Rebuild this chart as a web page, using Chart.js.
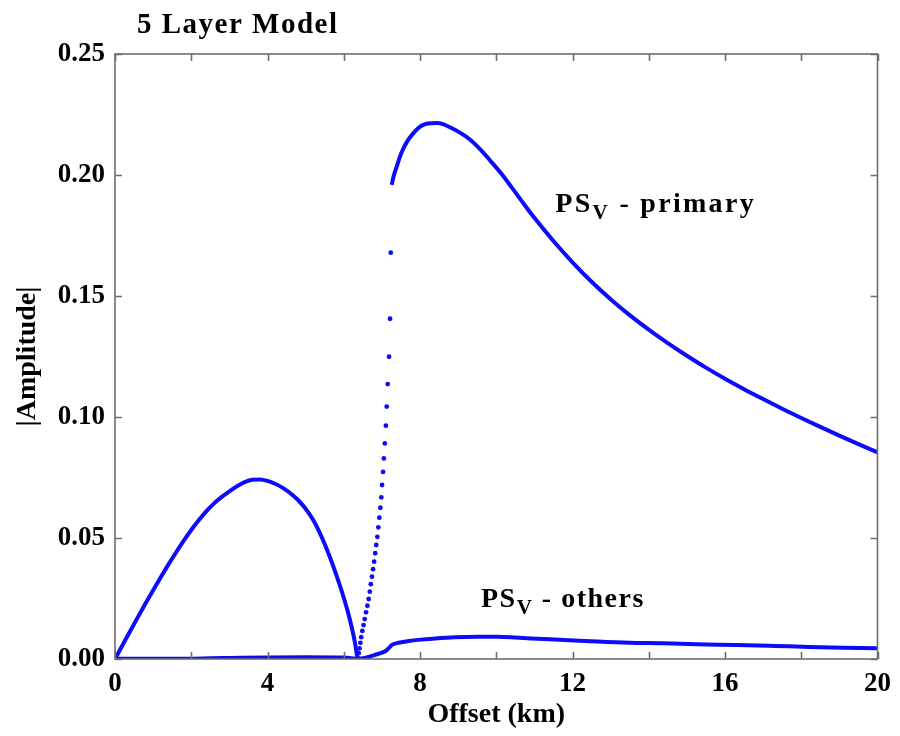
<!DOCTYPE html>
<html>
<head>
<meta charset="utf-8">
<script src="https://cdn.jsdelivr.net/npm/chart.js@4"></script>
<style>
  html, body { margin: 0; padding: 0; background: #fff; }
</style>
</head>
<body>
<canvas id="chart" width="900" height="736"></canvas>
<script>
// PSv primary: arch before the cusp (km, |amplitude|)
const archX = [0, 0.2, 0.4, 0.6, 0.8, 1.0, 1.2, 1.4, 1.6, 1.8, 2.0, 2.2, 2.4, 2.6, 2.8, 3.0, 3.2, 3.4, 3.6,
  3.8, 4.0, 4.2, 4.4, 4.6, 4.8, 5.0, 5.2, 5.35, 5.5, 5.65, 5.8, 5.95, 6.1, 6.21, 6.3, 6.36];
const archY = [0, 0.0058, 0.0116, 0.0173, 0.0229, 0.0284, 0.0338, 0.039, 0.044, 0.0488, 0.0533, 0.0574, 0.0611,
  0.0643, 0.067, 0.0693, 0.0714, 0.0731, 0.0741, 0.0742, 0.0736, 0.0724, 0.0707, 0.0685, 0.0657, 0.0621, 0.0574,
  0.0528, 0.0475, 0.0415, 0.035, 0.0279, 0.0199, 0.013, 0.0062, 0.0];

// PSv primary: sparse samples on the steep rise
const riseX = [6.371, 6.392, 6.413, 6.437, 6.459, 6.488, 6.519, 6.550, 6.585, 6.620, 6.654, 6.683, 6.710, 6.740,
  6.769, 6.797, 6.825, 6.853, 6.881, 6.908, 6.933, 6.960, 6.985, 7.006, 7.031, 7.053, 7.077, 7.105, 7.127,
  7.153, 7.188, 7.214, 7.232];
const riseY = [0.0003, 0.0024, 0.0044, 0.0067, 0.0090, 0.0116, 0.0140, 0.0165, 0.0193, 0.0220, 0.0248, 0.0278,
  0.0309, 0.0340, 0.0371, 0.0402, 0.0437, 0.0471, 0.0505, 0.0544, 0.0584, 0.0625, 0.0668, 0.0719, 0.0773,
  0.0829, 0.0891, 0.0964, 0.1043, 0.1136, 0.1249, 0.1406, 0.1679];

// PSv primary: main peak and decay
const peakX = [7.258, 7.3, 7.345, 7.4, 7.475, 7.55, 7.69, 7.8, 7.95, 8.1, 8.3, 8.45, 8.6, 8.8, 9.08, 9.3, 9.6,
  9.85, 10.125, 10.4, 10.735, 11, 11.5, 12, 12.5, 13, 13.5, 14, 14.5, 15, 15.5, 16, 16.5, 17, 17.5, 18, 18.5,
  19, 19.5, 20];
const peakY = [0.1959, 0.199, 0.2014, 0.204, 0.2076, 0.2105, 0.2145, 0.2168, 0.2193, 0.2208, 0.2214, 0.2215,
  0.221, 0.2196, 0.2172, 0.2148, 0.2103, 0.2058, 0.2007, 0.195, 0.1878, 0.1823, 0.1727, 0.1639, 0.1559, 0.1487,
  0.1421, 0.1361, 0.1305, 0.1253, 0.1204, 0.1158, 0.1115, 0.1074, 0.1034, 0.0996, 0.0959, 0.0923, 0.0888, 0.0854];

// PSv others
const otherX = [0, 1, 2, 2.5, 3, 4, 5, 6, 6.2, 6.35, 6.5, 6.65, 6.82, 7.0, 7.13, 7.2, 7.26, 7.43, 7.7, 7.95,
  8.4, 8.91, 9.5, 10.04, 10.5, 10.91, 11.78, 12.65, 13.5, 14.39, 15.25, 16.3, 17.3, 18.2, 19.1, 20];
const otherY = [0.0001, 0.0001, 0.0001, 0.0003, 0.0004, 0.0006, 0.0007, 0.0006, 0.0003, 0.0, 0.0003, 0.0009,
  0.0017, 0.0026, 0.0037, 0.0048, 0.0058, 0.0067, 0.0074, 0.0079, 0.0085, 0.009, 0.0092, 0.0092, 0.0089,
  0.0085, 0.0079, 0.0072, 0.0067, 0.0065, 0.0061, 0.0058, 0.0054, 0.005, 0.0047, 0.0044];

// label anchors, in data units
const primaryLabelAt = [11.55, 0.1847];
const othersLabelAt = [9.6, 0.0215];

const BLUE = 'rgb(12,12,250)';
const SERIF = '"Liberation Serif", "Times New Roman", serif';

const pts = (xs, ys) => xs.map((x, i) => ({x: x, y: ys[i]}));

const lineSet = (data) => ({
    data: data,
    showLine: true,
    borderColor: BLUE,
    borderWidth: 4,
    pointRadius: 0,
    cubicInterpolationMode: 'monotone'
});

function drawSubLabel(ctx, x, y, main, sub, rest, spacing) {
    ctx.letterSpacing = spacing;
    ctx.font = 'bold 28px ' + SERIF;
    ctx.fillText(main, x, y);
    let w = ctx.measureText(main).width;
    ctx.font = 'bold 21px ' + SERIF;
    ctx.fillText(sub, x + w, y + 7);
    w += ctx.measureText(sub).width;
    ctx.font = 'bold 28px ' + SERIF;
    ctx.fillText(rest, x + w, y);
}

const decorations = {
    id: 'decorations',
    afterDraw(chart) {
        const {ctx, chartArea: a, scales: {x, y}} = chart;
        ctx.save();
        ctx.strokeStyle = '#6e6e6e';
        ctx.lineWidth = 1.6;
        ctx.strokeRect(a.left, a.top, a.right - a.left, a.bottom - a.top);
        ctx.beginPath();
        x.ticks.forEach(t => {
            const px = Math.round(x.getPixelForValue(t.value)) + 0.5;
            ctx.moveTo(px, a.bottom); ctx.lineTo(px, a.bottom - 7);
            ctx.moveTo(px, a.top); ctx.lineTo(px, a.top + 7);
        });
        y.ticks.forEach(t => {
            const py = Math.round(y.getPixelForValue(t.value)) + 0.5;
            ctx.moveTo(a.left, py); ctx.lineTo(a.left + 7, py);
            ctx.moveTo(a.right, py); ctx.lineTo(a.right - 7, py);
        });
        ctx.stroke();

        ctx.fillStyle = '#000';
        ctx.textBaseline = 'alphabetic';
        ctx.textAlign = 'left';
        ctx.font = 'bold 29px ' + SERIF;
        ctx.letterSpacing = '1.5px';
        ctx.fillText('5 Layer Model', 137, 33);

        drawSubLabel(ctx, x.getPixelForValue(primaryLabelAt[0]), y.getPixelForValue(primaryLabelAt[1]),
            'PS', 'V', ' - primary', '2.3px');
        drawSubLabel(ctx, x.getPixelForValue(othersLabelAt[0]), y.getPixelForValue(othersLabelAt[1]),
            'PS', 'V', ' - others', '1.5px');
        ctx.restore();
    }
};

const tickFont = {family: SERIF, weight: 'bold', size: 27};
const titleFont = {family: SERIF, weight: 'bold', size: 28};

new Chart(document.getElementById('chart').getContext('2d'), {
    type: 'scatter',
    data: {
        datasets: [
            lineSet(pts(otherX, otherY)),
            lineSet(pts(archX, archY)),
            {
                data: pts(riseX, riseY),
                showLine: false,
                pointRadius: 2.4,
                pointBorderWidth: 0,
                pointBackgroundColor: BLUE
            },
            lineSet(pts(peakX, peakY))
        ]
    },
    options: {
        responsive: false,
        animation: false,
        layout: {padding: {top: 54, right: 18, left: 0, bottom: 0}},
        plugins: {
            legend: {display: false},
            tooltip: {enabled: false},
            title: {display: false}
        },
        scales: {
            x: {
                type: 'linear',
                min: 0,
                max: 20,
                grid: {display: false, drawTicks: false},
                border: {display: false},
                ticks: {
                    stepSize: 2,
                    autoSkip: false,
                    maxRotation: 0,
                    padding: 9,
                    color: '#000',
                    font: tickFont,
                    callback: v => (v % 4 === 0 ? String(v) : '')
                },
                title: {display: true, text: 'Offset (km)', color: '#000', font: titleFont, padding: {top: 0, bottom: 4}},
                afterFit(s) { s.height = 77; }
            },
            y: {
                type: 'linear',
                min: 0,
                max: 0.25,
                grid: {display: false, drawTicks: false},
                border: {display: false},
                ticks: {
                    stepSize: 0.05,
                    padding: 10,
                    color: '#000',
                    font: tickFont,
                    callback: v => v.toFixed(2)
                },
                title: {display: true, text: '|Amplitude|', color: '#000', font: titleFont, padding: {top: 11, bottom: 0}},
                afterFit(s) { s.width = 115; }
            }
        }
    },
    plugins: [decorations]
});
</script>
</body>
</html>
